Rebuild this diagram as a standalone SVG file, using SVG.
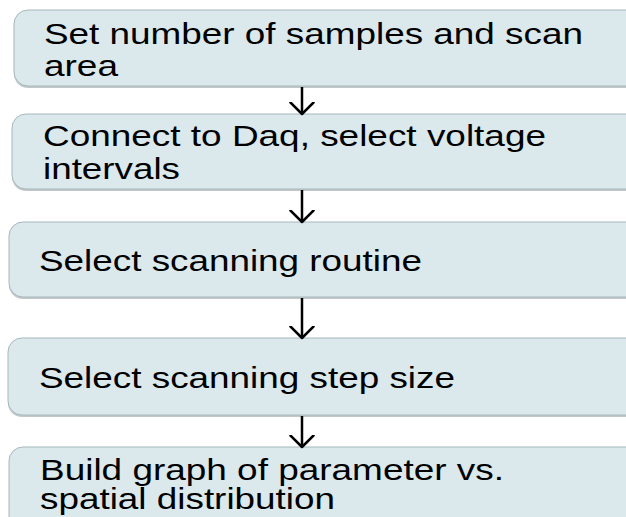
<svg xmlns="http://www.w3.org/2000/svg" width="626" height="517" viewBox="0 0 626 517">
<defs>
<style>
.bg{fill:#ffffff}
.shadow{fill:#8f9a9c;opacity:0.55}
.box{fill:#dbe9ec;stroke:#a7b7bb;stroke-width:1}
.lbl{font-family:"Liberation Sans",Arial,sans-serif;font-size:29px;fill:#000000}
.conn{stroke:#000000;stroke-width:2.5;fill:none}
</style>
<marker id="chev" markerUnits="userSpaceOnUse" viewBox="0 0 14 26" markerWidth="14" markerHeight="26" refX="12.5" refY="13" orient="auto">
<path d="M1,1.5 L12.5,13 L1,24.5" fill="none" stroke="#000000" stroke-width="2.5" stroke-linecap="round" stroke-linejoin="round"/>
</marker>
</defs>
<rect class="bg" x="0" y="0" width="626" height="517"/>
<g id="n1">
<rect class="shadow" x="14" y="12" width="640" height="76" rx="14"/>
<rect class="box" x="14" y="10" width="640" height="76" rx="14"/>
<text class="lbl" x="44" y="44" textLength="539" lengthAdjust="spacingAndGlyphs">Set number of samples and scan</text>
<text class="lbl" x="44" y="76" textLength="74" lengthAdjust="spacingAndGlyphs">area</text>
</g>
<g id="n2">
<rect class="shadow" x="12" y="116" width="640" height="75" rx="14"/>
<rect class="box" x="12" y="114" width="640" height="75" rx="14"/>
<text class="lbl" x="43" y="146" textLength="503" lengthAdjust="spacingAndGlyphs">Connect to Daq, select voltage</text>
<text class="lbl" x="43" y="179" textLength="137" lengthAdjust="spacingAndGlyphs">intervals</text>
</g>
<g id="n3">
<rect class="shadow" x="9" y="224" width="640" height="75" rx="14"/>
<rect class="box" x="9" y="222" width="640" height="75" rx="14"/>
<text class="lbl" x="39" y="271" textLength="383" lengthAdjust="spacingAndGlyphs">Select scanning routine</text>
</g>
<g id="n4">
<rect class="shadow" x="8" y="340" width="640" height="77" rx="14"/>
<rect class="box" x="8" y="338" width="640" height="77" rx="14"/>
<text class="lbl" x="39" y="388" textLength="416" lengthAdjust="spacingAndGlyphs">Select scanning step size</text>
</g>
<g id="n5">
<rect class="shadow" x="9" y="449" width="640" height="90" rx="14"/>
<rect class="box" x="9" y="447" width="640" height="90" rx="14"/>
<text class="lbl" x="40" y="480" textLength="464" lengthAdjust="spacingAndGlyphs">Build graph of parameter vs.</text>
<text class="lbl" x="40" y="509" textLength="295" lengthAdjust="spacingAndGlyphs">spatial distribution</text>
</g>
<g id="connectors">
<line class="conn" x1="302" y1="87" x2="302" y2="114" marker-end="url(#chev)"/>
<line class="conn" x1="302" y1="190" x2="302" y2="222" marker-end="url(#chev)"/>
<line class="conn" x1="302" y1="298" x2="302" y2="338" marker-end="url(#chev)"/>
<line class="conn" x1="302" y1="416" x2="302" y2="447" marker-end="url(#chev)"/>
</g>
</svg>
